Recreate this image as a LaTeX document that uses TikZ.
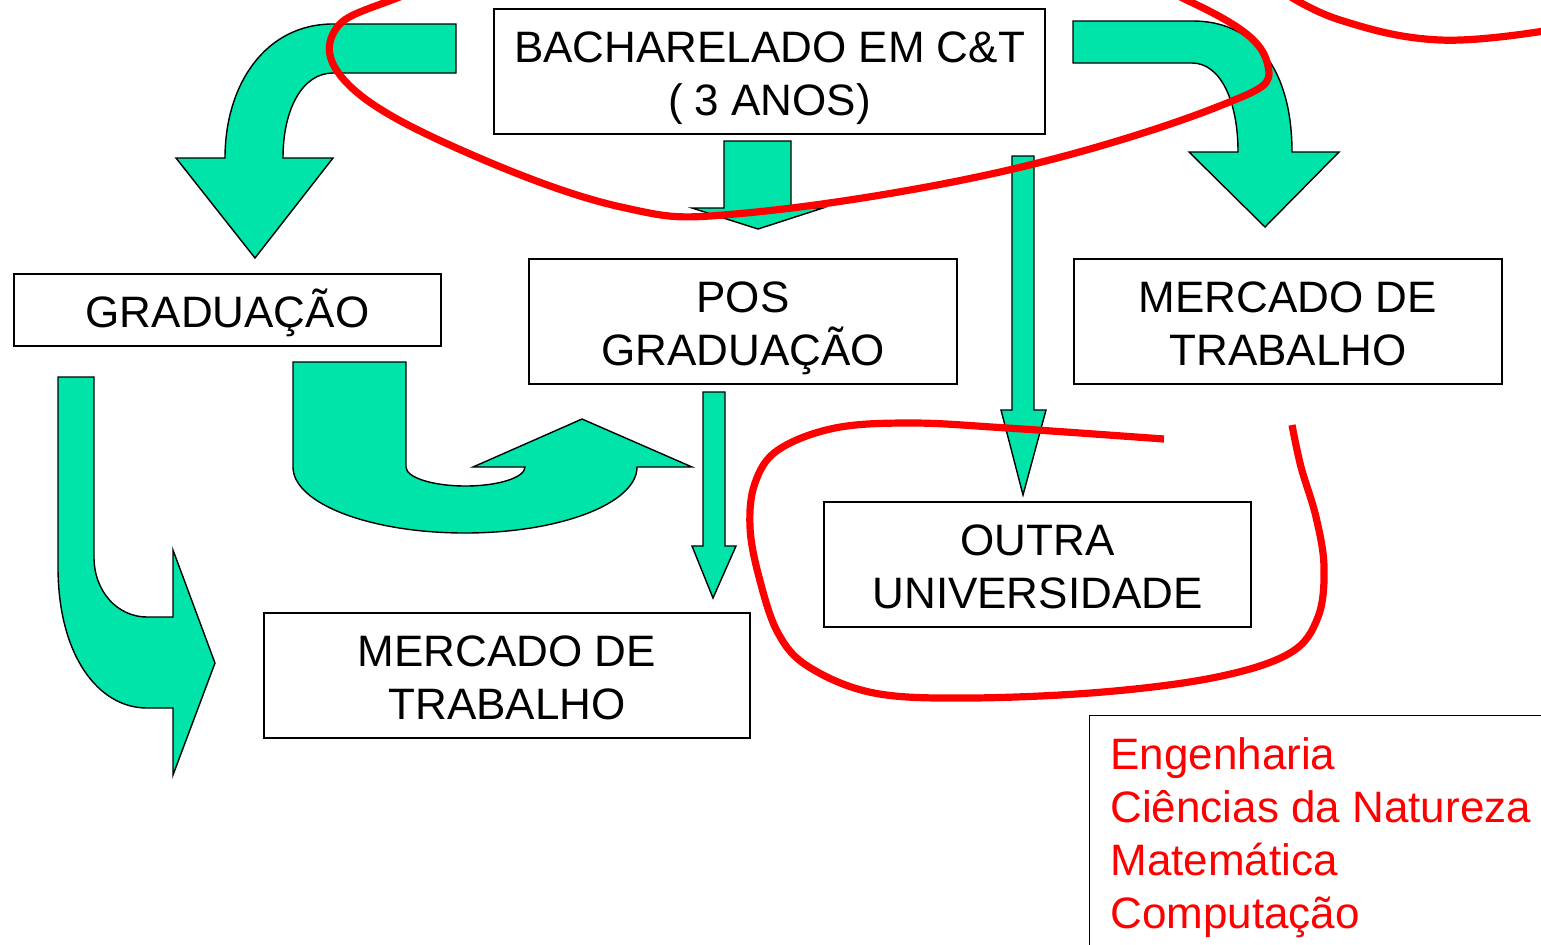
\documentclass[tikz,border=0pt]{standalone}
\usepackage{fontspec}
\setmainfont{Liberation Sans}
\definecolor{verdeseta}{RGB}{0,228,170}
\definecolor{vermelho}{RGB}{255,0,0}
% linhas com altura fixa, como no slide
\newcommand{\topolinha}{\rule{0pt}{22.5pt}}
\newcommand{\pelinha}{\rule[-5pt]{0pt}{0pt}}
\tikzset{
  caixa/.style={draw, line width=0.6pt, inner sep=0pt, align=center,
    minimum width=213.5pt, minimum height=62.5pt,
    font=\fontsize{22}{26.5}\selectfont},
  seta/.style={fill=verdeseta, draw=black, line width=0.7pt},
  destaque/.style={draw=vermelho, line width=3.6pt},
}

\begin{document}
\begin{tikzpicture}[x=0.5pt, y=-0.5pt]
	\clip (0,0) rectangle (1541,944);

	% caixas
	\node[caixa, minimum width=275.5pt] (bacharelado) at (769.5,71.5)
		{\topolinha BACHARELADO EM C\&T\\( 3 ANOS)\pelinha};
	\node[caixa, minimum height=36pt] (graduacao) at (227.5,310)
		{\topolinha GRADUAÇÃO\pelinha};
	\node[caixa, minimum width=214pt] (posgrad) at (743,321.5)
		{\topolinha POS\\GRADUAÇÃO\pelinha};
	\node[caixa, minimum width=214pt] (mercadodir) at (1288,321.5)
		{\topolinha MERCADO DE\\TRABALHO\pelinha};
	\node[caixa] (outra) at (1037.5,564.5)
		{\topolinha OUTRA\\UNIVERSIDADE\pelinha};
	\node[caixa, minimum width=243pt] (mercadoinf) at (507,675.5)
		{\topolinha MERCADO DE\\TRABALHO\pelinha};

	\node[draw, line width=0.6pt, anchor=north west, inner sep=0pt,
		minimum width=250pt, minimum height=130pt] (quadro) at (1089,715) {};
	\node[anchor=north west, align=left, inner sep=0pt, text=vermelho,
		font=\fontsize{22}{26.5}\selectfont] (campos)
		at ([xshift=10.5pt, yshift=-11pt]quadro.north west)
		{Engenharia\\Ciências da Natureza\\Matemática\\Computação};

	% setas
	\filldraw[seta] (456,24) -- (333,24) .. controls (265,24) and (225,85) .. (225,158)
		-- (176,158) -- (255,258) -- (333,158) -- (283,158)
		.. controls (283,108) and (303,73) .. (333,73) -- (456,73) -- cycle;
	\filldraw[seta] (1073,21) -- (1193,21) .. controls (1255,21) and (1292,70) .. (1292,152)
		-- (1339,152) -- (1265,227) -- (1189,152) -- (1238,152)
		.. controls (1238,100) and (1220,63) .. (1192,63) -- (1073,63) -- cycle;
	\filldraw[seta] (724,141) -- (791,141) -- (791,208) -- (823,208) -- (758,229)
		-- (692,208) -- (724,208) -- cycle;
	\filldraw[seta] (1012,156) -- (1034,156) -- (1034,410) -- (1046,410) -- (1023,495)
		-- (1001,410) -- (1012,410) -- cycle;
	\filldraw[seta] (703,392) -- (725,392) -- (725,546) -- (736,546) -- (713,598)
		-- (692,546) -- (703,546) -- cycle;
	\filldraw[seta] (293,362) -- (406,362) -- (406,467)
		.. controls (406,477.5) and (432.7,486) .. (465.5,486)
		.. controls (498.3,486) and (525,477.5) .. (525,467)
		-- (473,467) -- (582,419) -- (692,467) -- (637,467)
		.. controls (637,503.4) and (560,533) .. (465,533)
		.. controls (370,533) and (293,503.4) .. (293,467) -- cycle;
	\filldraw[seta] (58,377) -- (94,377) -- (94,557)
		.. controls (94,592) and (118,617) .. (147,617) -- (173,617) -- (173,550)
		-- (215,663) -- (173,775) -- (173,708) -- (147,708)
		.. controls (98,708) and (58,655) .. (58,567) -- cycle;

	% marcas vermelhas
	\draw[destaque] plot[smooth cycle, tension=0.65] coordinates {
		(405,-5) (334,32) (352,88) (461,150) (621,207) (746,213)
		(1000,172) (1217,107) (1268,66) (1195,4)
		(950,-85) (600,-70)};
	\draw[destaque] plot[smooth, tension=0.7] coordinates {
		(1280,-10) (1340,20) (1440,40) (1550,30)};
	\draw[destaque] plot[smooth, tension=0.6] coordinates {
		(1164,439) (1007,428) (912,423) (835,428) (778,450) (755,483)
		(750,527) (759,577) (778,633) (809,667) (874,693) (969,698)
		(1103,692) (1217,677) (1290,653) (1318,617) (1324,567)
		(1316,517) (1301,467) (1292,425)};
\end{tikzpicture}
\end{document}
